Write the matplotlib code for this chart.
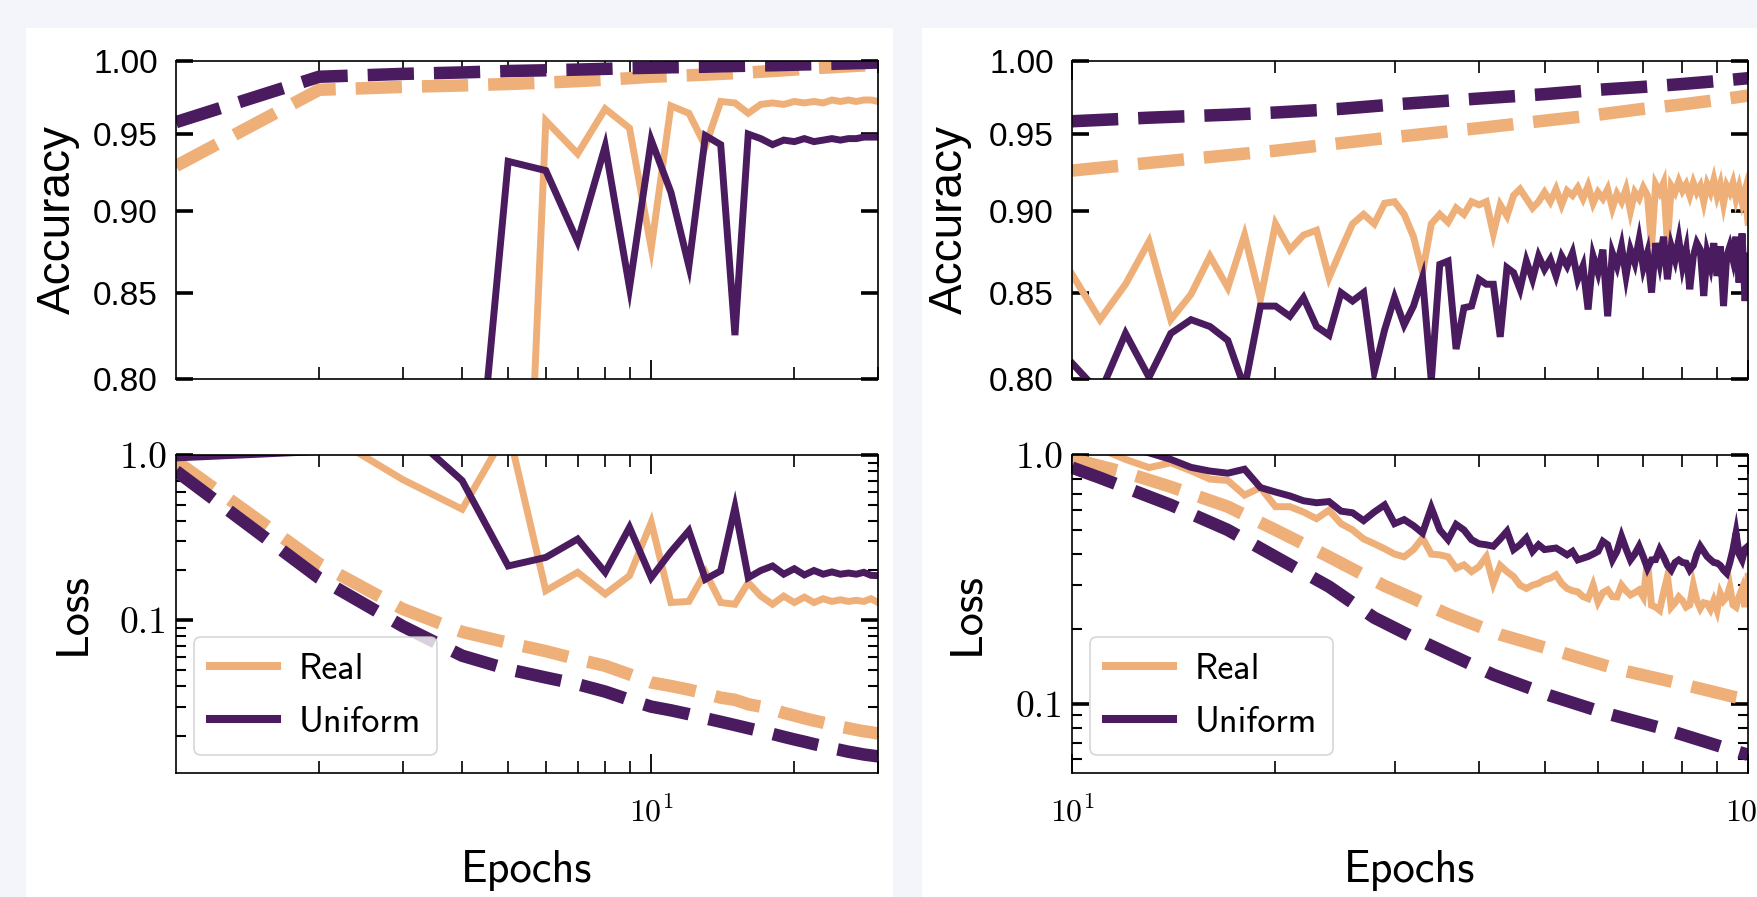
import matplotlib
matplotlib.use("Agg")
import matplotlib.pyplot as plt
import matplotlib.ticker as mticker
from matplotlib.lines import Line2D
from matplotlib.patches import Rectangle
import numpy as np

plt.rcParams['mathtext.fontset'] = 'cm'
plt.rcParams['axes.unicode_minus'] = False

ORANGE = '#EFAF78'
PURPLE = '#4A1B5E'
BG = '#F3F5FA'

# ---------------- Left panel (epochs 1..30) ----------------
epochs_left = list(range(1, 31))

acc_train_real_left = [0.929, 0.980, 0.982, 0.983, 0.984, 0.985, 0.986, 0.987, 0.988, 0.989,
                       0.9895, 0.990, 0.9905, 0.991, 0.9915, 0.992, 0.9925, 0.993, 0.9935, 0.994,
                       0.9945, 0.995, 0.9953, 0.9956, 0.996, 0.9963, 0.9966, 0.9969, 0.9972, 0.9975]
acc_train_uniform_left = [0.958, 0.989, 0.991, 0.992, 0.993, 0.9935, 0.994, 0.9945, 0.995, 0.9953,
                          0.9956, 0.9958, 0.996, 0.9963, 0.9965, 0.9967, 0.9969, 0.997, 0.9972, 0.9974,
                          0.9976, 0.9977, 0.9979, 0.998, 0.9982, 0.9983, 0.9985, 0.9986, 0.9988, 0.9989]
acc_test_real_left = [0.40, 0.55, 0.70, 0.76, 0.52, 0.959, 0.937, 0.967, 0.954, 0.877,
                      0.969, 0.964, 0.942, 0.972, 0.971, 0.964, 0.970, 0.971, 0.970, 0.972,
                      0.971, 0.972, 0.971, 0.973, 0.972, 0.973, 0.972, 0.973, 0.973, 0.972]
acc_test_uniform_left = [0.55, 0.50, 0.45, 0.66, 0.932, 0.926, 0.881, 0.942, 0.853, 0.946,
                         0.912, 0.866, 0.949, 0.943, 0.825, 0.950, 0.947, 0.943, 0.946, 0.945,
                         0.947, 0.945, 0.946, 0.947, 0.946, 0.947, 0.947, 0.948, 0.948, 0.948]

loss_train_real_left = [0.92, 0.22, 0.117, 0.085, 0.073, 0.065, 0.058, 0.053, 0.047, 0.042,
                        0.040, 0.038, 0.036, 0.034, 0.033, 0.031, 0.030, 0.029, 0.0275, 0.0265,
                        0.0255, 0.0247, 0.024, 0.0233, 0.0227, 0.0222, 0.0217, 0.0213, 0.021, 0.0206]
loss_train_uniform_left = [0.80, 0.18, 0.092, 0.061, 0.0505, 0.045, 0.041, 0.037, 0.033, 0.030,
                           0.0285, 0.027, 0.0255, 0.0243, 0.0232, 0.0222, 0.0213, 0.0205, 0.0197, 0.019,
                           0.0184, 0.0178, 0.0173, 0.0168, 0.0164, 0.016, 0.0157, 0.0154, 0.0152, 0.0150]
loss_test_real_left = [2.0, 1.43, 0.71, 0.47, 1.43, 0.151, 0.195, 0.144, 0.186, 0.391,
                       0.128, 0.130, 0.195, 0.128, 0.125, 0.169, 0.140, 0.125, 0.140, 0.128,
                       0.138, 0.128, 0.135, 0.130, 0.133, 0.130, 0.132, 0.130, 0.135, 0.128]
loss_test_uniform_left = [0.96, 1.05, 1.47, 0.70, 0.213, 0.240, 0.31, 0.195, 0.365, 0.181,
                          0.26, 0.348, 0.177, 0.199, 0.482, 0.181, 0.20, 0.213, 0.19, 0.205,
                          0.188, 0.20, 0.19, 0.196, 0.19, 0.193, 0.19, 0.195, 0.187, 0.186]

# ---------------- Right panel (epochs 10..100) ----------------
epochs_right = list(range(10, 101))

acc_dash_epochs_right = [10, 13, 17, 20, 25, 30, 40, 50, 60, 70, 80, 90, 100]
acc_train_real_right = [0.926, 0.931, 0.936, 0.939, 0.944, 0.948, 0.954, 0.959, 0.963, 0.967, 0.970, 0.973, 0.976]
acc_train_uniform_right = [0.9586, 0.961, 0.963, 0.9645, 0.967, 0.970, 0.974, 0.977, 0.980, 0.982, 0.984, 0.986, 0.988]

acc_test_real_right = [
    0.861, 0.834, 0.855, 0.881, 0.834, 0.849, 0.872, 0.853, 0.885, 0.846,
    0.892, 0.876, 0.885, 0.888, 0.859, 0.876, 0.892, 0.898, 0.892, 0.905,
    0.906, 0.898, 0.884, 0.862, 0.892, 0.898, 0.893, 0.902, 0.898, 0.906,
    0.904, 0.906, 0.886, 0.904, 0.897, 0.910, 0.914, 0.908, 0.902, 0.906,
    0.912, 0.906, 0.914, 0.904, 0.913, 0.910, 0.915, 0.908, 0.916, 0.905,
    0.912, 0.908, 0.914, 0.902, 0.911, 0.906, 0.914, 0.900, 0.912, 0.908,
    0.915, 0.910, 0.878, 0.917, 0.912, 0.918, 0.880, 0.916, 0.912, 0.919,
    0.913, 0.917, 0.910, 0.918, 0.912, 0.916, 0.906, 0.917, 0.912, 0.920,
    0.910, 0.917, 0.905, 0.916, 0.912, 0.918, 0.908, 0.915, 0.906, 0.913,
    0.893]
acc_test_uniform_right = [
    0.809, 0.792, 0.826, 0.801, 0.826, 0.834, 0.830, 0.822, 0.795, 0.842,
    0.842, 0.836, 0.847, 0.830, 0.825, 0.850, 0.845, 0.850, 0.804, 0.828,
    0.847, 0.831, 0.842, 0.859, 0.799, 0.867, 0.869, 0.817, 0.841, 0.842,
    0.858, 0.855, 0.855, 0.824, 0.865, 0.862, 0.852, 0.869, 0.858, 0.872,
    0.864, 0.870, 0.860, 0.872, 0.866, 0.874, 0.858, 0.866, 0.840, 0.872,
    0.862, 0.876, 0.836, 0.874, 0.866, 0.878, 0.860, 0.876, 0.868, 0.882,
    0.865, 0.874, 0.850, 0.880, 0.868, 0.884, 0.858, 0.878, 0.870, 0.882,
    0.866, 0.876, 0.852, 0.872, 0.880, 0.876, 0.848, 0.874, 0.866, 0.880,
    0.860, 0.878, 0.842, 0.872, 0.878, 0.870, 0.884, 0.856, 0.886, 0.845,
    0.872]

loss_dash_epochs_real_right = [10, 12, 14, 17, 20, 24, 29, 32, 36, 43, 53, 64, 78, 95, 100]
loss_train_real_right = [0.965, 0.85, 0.745, 0.62, 0.50, 0.39, 0.298, 0.265, 0.229, 0.19, 0.161, 0.138, 0.122, 0.107, 0.104]
loss_dash_epochs_uniform_right = [10, 11, 14, 17, 20, 24, 28, 32, 35, 42, 51, 61, 75, 91, 100]
loss_train_uniform_right = [0.89, 0.81, 0.63, 0.50, 0.39, 0.296, 0.222, 0.185, 0.165, 0.131, 0.108, 0.0925, 0.0795, 0.0675, 0.0625]

loss_test_real_right = [
    1.12, 1.06, 0.96, 0.89, 0.93, 0.864, 0.80, 0.79, 0.69, 0.74,
    0.62, 0.62, 0.59, 0.555, 0.60, 0.53, 0.50, 0.46, 0.44, 0.42,
    0.40, 0.39, 0.417, 0.464, 0.40, 0.397, 0.39, 0.351, 0.362, 0.34,
    0.356, 0.39, 0.305, 0.36, 0.34, 0.325, 0.30, 0.291, 0.30, 0.305,
    0.315, 0.32, 0.33, 0.305, 0.291, 0.285, 0.282, 0.27, 0.265, 0.30,
    0.257, 0.28, 0.287, 0.27, 0.269, 0.30, 0.285, 0.274, 0.28, 0.287,
    0.269, 0.373, 0.249, 0.245, 0.238, 0.28, 0.325, 0.245, 0.255, 0.269,
    0.26, 0.245, 0.25, 0.30, 0.26, 0.242, 0.255, 0.253, 0.24, 0.26,
    0.238, 0.278, 0.26, 0.269, 0.296, 0.25, 0.245, 0.27, 0.29, 0.245,
    0.325]
loss_test_uniform_right = [
    1.25, 1.15, 1.08, 1.02, 0.96, 0.892, 0.862, 0.845, 0.877, 0.74,
    0.71, 0.685, 0.655, 0.643, 0.65, 0.595, 0.586, 0.545, 0.59, 0.63,
    0.53, 0.55, 0.52, 0.486, 0.614, 0.50, 0.457, 0.526, 0.50, 0.457,
    0.44, 0.436, 0.43, 0.46, 0.494, 0.417, 0.436, 0.464, 0.41, 0.436,
    0.417, 0.42, 0.423, 0.41, 0.397, 0.41, 0.379, 0.385, 0.391, 0.40,
    0.41, 0.45, 0.436, 0.379, 0.41, 0.471, 0.42, 0.379, 0.40, 0.43,
    0.39, 0.351, 0.379, 0.38, 0.417, 0.39, 0.36, 0.345, 0.37, 0.379,
    0.37, 0.368, 0.345, 0.36, 0.40, 0.43, 0.41, 0.391, 0.38, 0.37,
    0.368, 0.36, 0.345, 0.335, 0.37, 0.417, 0.486, 0.40, 0.379, 0.42,
    0.43]

acc_ticks = [0.80, 0.85, 0.90, 0.95, 1.00]
acc_ticklabels = ['0.80', '0.85', '0.90', '0.95', '1.00']
loss_ticks = [0.1, 1.0]
loss_ticklabels = ['0.1', '1.0']
legend_labels = ['Real', 'Uniform']

# ---------------- Figure ----------------
W, H = 1757, 897
fig = plt.figure(figsize=(W / 100, H / 100), dpi=100, facecolor=BG)

def fx(px):
    return px / W

def fy(py):
    return 1 - py / H

# white panels
fig.patches.append(Rectangle((fx(26), 0), fx(893) - fx(26), fy(28), transform=fig.transFigure,
                             facecolor='white', edgecolor='none', zorder=-5))
fig.patches.append(Rectangle((fx(922), 0), 1 - fx(922), fy(28), transform=fig.transFigure,
                             facecolor='white', edgecolor='none', zorder=-5))

def make_ax(x0, x1, y0, y1):
    return fig.add_axes([fx(x0), fy(y1), fx(x1) - fx(x0), (y1 - y0) / H])

axL_acc = make_ax(176, 878, 61, 379)
axL_loss = make_ax(176, 878, 455, 773)
axR_acc = make_ax(1072, 1748, 61, 379)
axR_loss = make_ax(1072, 1748, 455, 773)

DASH_LW = 9.0
SOLID_LW = 5.0

def draw(ax, xd_r, yd_r, xd_u, yd_u, xs, ys_r, ys_u):
    ax.plot(xd_r, yd_r, color=ORANGE, lw=DASH_LW, ls='--', dash_capstyle='butt')
    ax.plot(xs, ys_r, color=ORANGE, lw=SOLID_LW, solid_joinstyle='miter')
    ax.plot(xd_u, yd_u, color=PURPLE, lw=DASH_LW, ls='--', dash_capstyle='butt')
    ax.plot(xs, ys_u, color=PURPLE, lw=SOLID_LW, solid_joinstyle='miter')

draw(axL_acc, epochs_left, acc_train_real_left, epochs_left, acc_train_uniform_left,
     epochs_left, acc_test_real_left, acc_test_uniform_left)
draw(axL_loss, epochs_left, loss_train_real_left, epochs_left, loss_train_uniform_left,
     epochs_left, loss_test_real_left, loss_test_uniform_left)
draw(axR_acc, acc_dash_epochs_right, acc_train_real_right, acc_dash_epochs_right, acc_train_uniform_right,
     epochs_right, acc_test_real_right, acc_test_uniform_right)
draw(axR_loss, loss_dash_epochs_real_right, loss_train_real_right,
     loss_dash_epochs_uniform_right, loss_train_uniform_right,
     epochs_right, loss_test_real_right, loss_test_uniform_right)

for ax in (axL_acc, axL_loss, axR_acc, axR_loss):
    ax.set_xscale('log')
    ax.set_yscale('log')
    for s in ax.spines.values():
        s.set_linewidth(1.2)
    ax.tick_params(which='both', direction='in', top=True, right=True, colors='black')

# x axes
for ax in (axL_acc, axL_loss):
    ax.set_xlim(1, 30)
    ax.xaxis.set_major_locator(mticker.FixedLocator([10]))
    ax.xaxis.set_minor_locator(mticker.FixedLocator([2, 3, 4, 5, 6, 7, 8, 9, 20, 30]))
for ax in (axR_acc, axR_loss):
    ax.set_xlim(10, 100)
    ax.xaxis.set_major_locator(mticker.FixedLocator([10, 100]))
    ax.xaxis.set_minor_locator(mticker.FixedLocator([20, 30, 40, 50, 60, 70, 80, 90]))
for ax in (axL_acc, axL_loss, axR_acc, axR_loss):
    ax.xaxis.set_minor_formatter(mticker.NullFormatter())
    ax.tick_params(axis='x', which='major', length=14, width=1.3)
    ax.tick_params(axis='x', which='minor', length=8.5, width=1.2)
    ax.tick_params(axis='y', which='major', length=12.5, width=2.6)
    ax.tick_params(axis='y', which='minor', length=7.5, width=1.5)

for ax in (axL_acc, axR_acc):
    ax.xaxis.set_major_formatter(mticker.NullFormatter())
    ax.set_ylim(0.8, 1.0)
    ax.yaxis.set_major_locator(mticker.FixedLocator(acc_ticks))
    ax.yaxis.set_major_formatter(mticker.FixedFormatter(acc_ticklabels))
    ax.yaxis.set_minor_locator(mticker.NullLocator())
    ax.tick_params(axis='y', labelsize=24, labelfontfamily='Liberation Sans', pad=13)

axL_loss.set_ylim(0.0119, 1.0)
axR_loss.set_ylim(0.0528, 1.0)
for ax in (axL_loss, axR_loss):
    ax.yaxis.set_major_locator(mticker.FixedLocator(loss_ticks))
    ax.yaxis.set_major_formatter(mticker.FixedFormatter(loss_ticklabels))
    ax.yaxis.set_minor_locator(mticker.LogLocator(base=10, subs=np.arange(2, 10)))
    ax.yaxis.set_minor_formatter(mticker.NullFormatter())
    ax.tick_params(axis='y', labelsize=27, labelfontfamily='cmr10', pad=6)
    ax.tick_params(axis='x', labelsize=23, pad=17)

axL_loss.xaxis.set_major_formatter(mticker.FixedFormatter([r'$10^{1}$']))
axR_loss.xaxis.set_major_formatter(mticker.FixedFormatter([r'$10^{1}$', r'$10^{2}$']))

# legends
for ax in (axL_loss, axR_loss):
    handles = [Line2D([], [], color=ORANGE, lw=5.8), Line2D([], [], color=PURPLE, lw=5.8)]
    leg = ax.legend(handles, legend_labels, loc='lower left', prop={'family': 'cmss10', 'size': 26},
                    handlelength=1.85, handletextpad=0.6, labelspacing=0.55, borderpad=0.45,
                    borderaxespad=0.5, fancybox=True, framealpha=0.8, edgecolor='0.8')
    leg.get_frame().set_linewidth(1.2)

# axis labels
fig.text(fx(58), fy(220), 'Accuracy', rotation=90, ha='center', va='center',
         family='Liberation Sans', fontsize=33)
fig.text(fx(950), fy(220), 'Accuracy', rotation=90, ha='center', va='center',
         family='Liberation Sans', fontsize=33)
fig.text(fx(73), fy(614), 'Loss', rotation=90, ha='center', va='center',
         family='cmss10', fontsize=33)
fig.text(fx(967), fy(614), 'Loss', rotation=90, ha='center', va='center',
         family='cmss10', fontsize=33)
fig.text(fx(527), fy(882), 'Epochs', ha='center', va='baseline', family='cmss10', fontsize=32)
fig.text(fx(1410), fy(882), 'Epochs', ha='center', va='baseline', family='cmss10', fontsize=32)

fig.savefig('out.png', dpi=100, facecolor=BG)
